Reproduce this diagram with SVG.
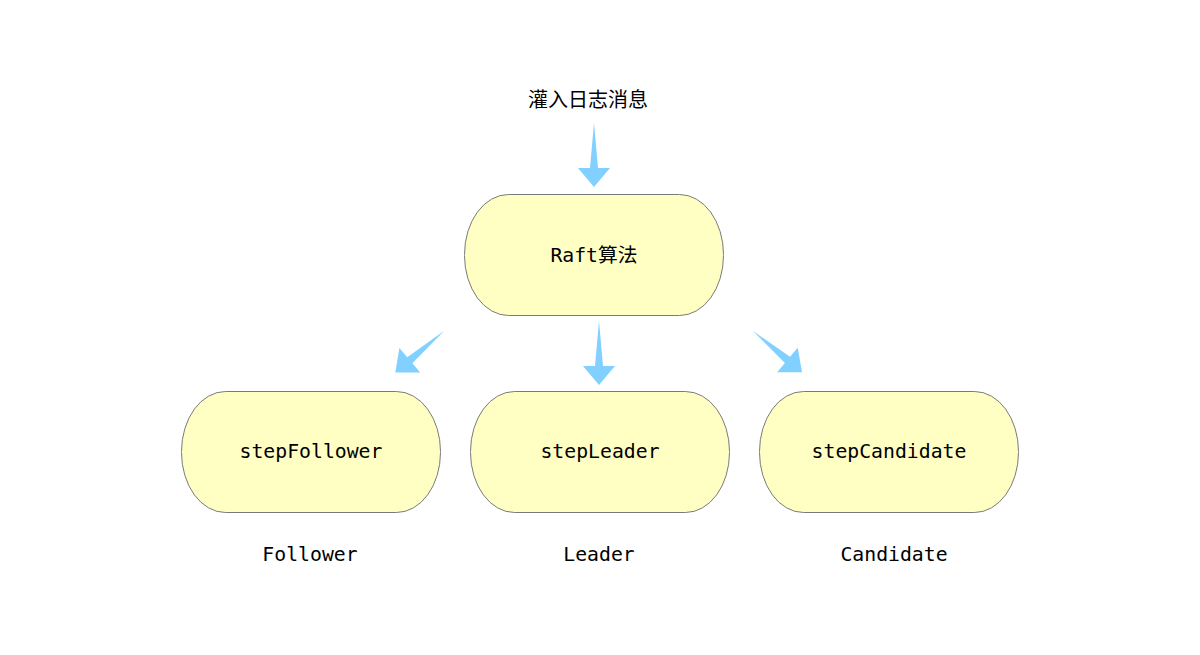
<svg xmlns="http://www.w3.org/2000/svg" xmlns:xlink="http://www.w3.org/1999/xlink" width="1200" height="655" viewBox="0 0 1200 655">
<style>
.node{fill:#FFFFC3;stroke:#7a7a7a;stroke-width:1}
.mono{font-family:"DejaVu Sans Mono","Liberation Mono","Noto Sans CJK SC",monospace;font-size:19.8px;fill:#000;text-anchor:middle}
.cjk{font-family:"Noto Sans CJK SC",sans-serif;font-size:20px;fill:#000;text-anchor:middle}
.arrow{fill:#81D0FF}
</style>
<defs>
<path id="arr" class="arrow" d="M0,0 L4,45 L16,45 L0,64 L-16,45 L-4,45 Z"/>
</defs>
<rect width="1200" height="655" fill="#fff"/>
<text class="cjk" x="588" y="107">灌入日志消息</text>
<g id="connectors">
<use xlink:href="#arr" transform="translate(594,123)"/>
<use xlink:href="#arr" transform="translate(599,321)"/>
<use xlink:href="#arr" transform="translate(444,331) rotate(49.5)"/>
<use xlink:href="#arr" transform="translate(753,331) rotate(-50)"/>
</g>
<g id="raft">
<rect class="node" x="464.5" y="194.5" width="259" height="121" rx="44" ry="60"/>
<text class="mono" x="594" y="262">Raft算法</text>
</g>
<g id="stepFollower">
<rect class="node" x="181.5" y="391.5" width="259" height="121" rx="44" ry="60"/>
<text class="mono" x="311" y="458">stepFollower</text>
</g>
<g id="stepLeader">
<rect class="node" x="470.5" y="391.5" width="259" height="121" rx="44" ry="60"/>
<text class="mono" x="600" y="458">stepLeader</text>
</g>
<g id="stepCandidate">
<rect class="node" x="759.5" y="391.5" width="259" height="121" rx="44" ry="60"/>
<text class="mono" x="889" y="458">stepCandidate</text>
</g>
<g id="labels">
<text class="mono" x="310" y="561">Follower</text>
<text class="mono" x="599" y="561">Leader</text>
<text class="mono" x="894" y="561">Candidate</text>
</g>
</svg>
